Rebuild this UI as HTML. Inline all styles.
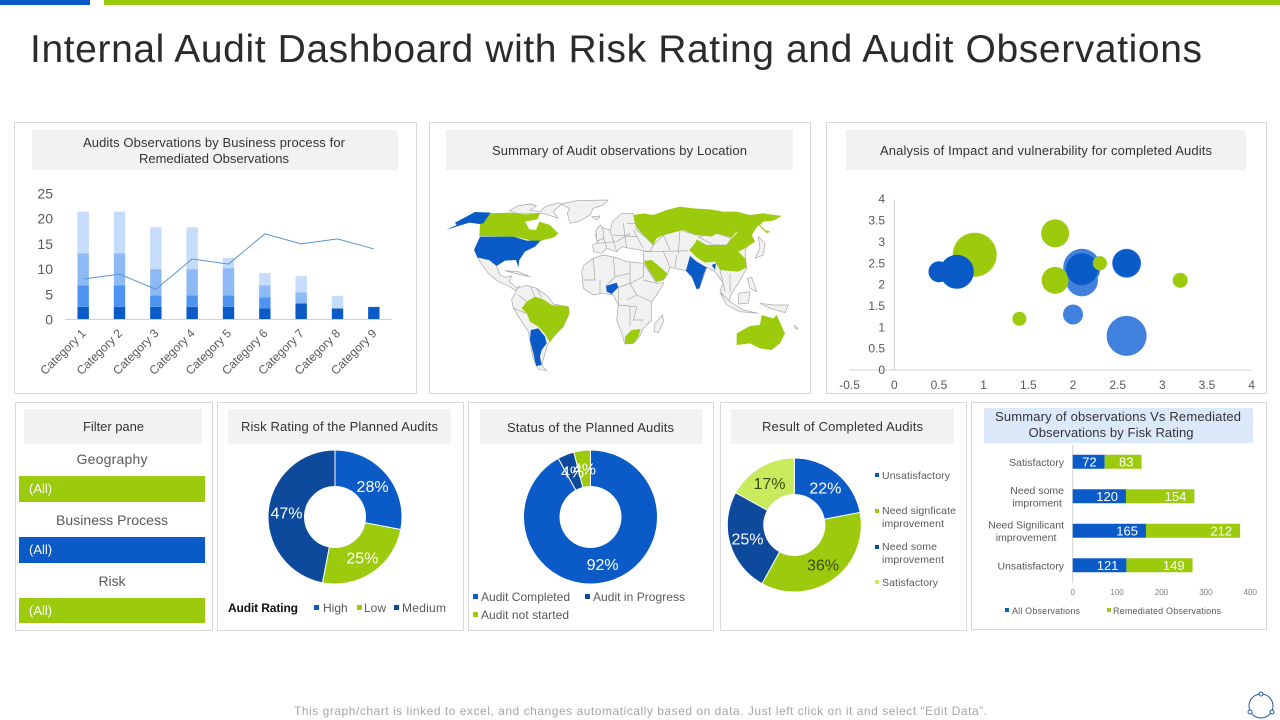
<!DOCTYPE html>
<html lang="en">
<head>
<meta charset="utf-8">
<title>Internal Audit Dashboard</title>
<style>
html,body{margin:0;padding:0;background:#fff;}
svg{display:block;font-family:"Liberation Sans",sans-serif;}
.panel{fill:#fff;stroke:#d9d9d9;stroke-width:1;}
.head{fill:#f2f2f2;}
.t{fill:#333;font-size:13px;text-anchor:middle;}
.lg{fill:#595959;font-size:12px;}
.land{fill:#f1f1f1;stroke:#a6a6a6;stroke-width:2;stroke-linejoin:round;}
.bor{fill:none;stroke:#a6a6a6;stroke-width:2;}
.gr{fill:#9ccb0e;}
.bl{fill:#0a5bc8;}
</style>
</head>
<body>
<svg id="dash" width="1280" height="720" viewBox="0 0 1280 720" xmlns="http://www.w3.org/2000/svg">
  <rect x="0" y="0" width="90" height="5" fill="#0a5bc8"/>
  <rect x="104" y="0" width="1176" height="5" fill="#9ccb0e"/>
  <text x="30" y="62" font-size="39" fill="#2b2b2b" textLength="1172" lengthAdjust="spacing">Internal Audit Dashboard with Risk Rating and Audit Observations</text>

  <rect class="panel" x="14.5" y="122.5" width="402" height="271"/>
  <rect class="panel" x="429.5" y="122.5" width="381" height="271"/>
  <rect class="panel" x="826.5" y="122.5" width="440" height="271"/>
  <rect class="panel" x="15.5" y="402.5" width="197" height="228"/>
  <rect class="panel" x="217.5" y="402.5" width="246" height="228"/>
  <rect class="panel" x="468.5" y="402.5" width="245" height="228"/>
  <rect class="panel" x="720.5" y="402.5" width="246" height="228"/>
  <rect class="panel" x="971.5" y="402.5" width="295" height="227"/>

  <rect class="head" x="32" y="130" width="366" height="40"/>
  <text class="t" x="214" y="147" textLength="262" lengthAdjust="spacing">Audits Observations  by Business process for</text>
  <text class="t" x="214" y="163" textLength="150" lengthAdjust="spacing">Remediated  Observations</text>
  <rect class="head" x="446" y="130" width="347" height="40"/>
  <text class="t" x="619.5" y="155" textLength="255" lengthAdjust="spacing">Summary of Audit observations  by Location</text>
  <rect class="head" x="846" y="130" width="400" height="40"/>
  <text class="t" x="1046" y="155" textLength="332" lengthAdjust="spacing">Analysis of Impact and vulnerability  for completed Audits</text>

  <rect class="head" x="24" y="409" width="178" height="35"/>
  <text class="t" x="113.500" y="431" textLength="61" lengthAdjust="spacing">Filter pane</text>
  <text class="t" x="112" y="464" style="font-size:14px;fill:#595959" textLength="71" lengthAdjust="spacing">Geography</text>
  <rect class="gr" x="19" y="476" width="186" height="26"/>
  <text x="29" y="493" font-size="13" fill="#fff">(All)</text>
  <text class="t" x="112" y="525" style="font-size:14px;fill:#595959" textLength="112" lengthAdjust="spacing">Business Process</text>
  <rect class="bl" x="19" y="537" width="186" height="26"/>
  <text x="29" y="554" font-size="13" fill="#fff">(All)</text>
  <text class="t" x="112" y="586" style="font-size:14px;fill:#595959" textLength="27" lengthAdjust="spacing">Risk</text>
  <rect class="gr" x="19" y="598" width="186" height="25"/>
  <text x="29" y="615" font-size="13" fill="#fff">(All)</text>

  <rect class="head" x="228" y="409" width="223" height="35"/>
  <text class="t" x="339.500" y="431" textLength="197" lengthAdjust="spacing">Risk Rating of the Planned Audits</text>
  <rect class="head" x="480" y="409" width="222" height="35"/>
  <text class="t" x="590.500" y="432" textLength="167" lengthAdjust="spacing">Status of the Planned Audits</text>
  <rect class="head" x="731" y="409" width="223" height="35"/>
  <text class="t" x="842.500" y="431" textLength="161" lengthAdjust="spacing">Result of Completed  Audits</text>
  <rect x="984" y="408" width="269" height="35" fill="#dbe9fb"/>
  <text class="t" x="1118" y="421" textLength="246" lengthAdjust="spacing">Summary  of observations    Vs Remediated</text>
  <text class="t" x="1111" y="437" textLength="165" lengthAdjust="spacing">Observations  by Fisk Rating</text>

  <g transform="translate(430,180) scale(0.33333)">
    <path class="land" d="M392,72 L440,62 L535,60 L520,75 L490,85 L480,105 L445,125 L420,130 L412,100 L418,85Z"/>
    <path class="land" d="M238,92 L262,78 L300,72 L320,78 L300,90 L330,95 L345,80 L385,68 L395,72 L370,95 L385,115 L340,100 L260,100Z"/>
    <path class="land" d="M142,232 L178,240 L200,258 L210,285 L228,292 L245,288 L238,305 L262,325 L268,318 L258,332 L235,318 L205,305 L175,280 L150,245Z"/>
    <path class="land" d="M225,272 L265,275 L300,290 L262,282Z"/>
    <path class="land" d="M245,360 L262,325 L290,316 L320,325 L355,350 L370,372 L415,380 L418,400 L400,440 L375,465 L355,490 L345,520 L335,555 L350,572 L325,568 L308,530 L295,455 L250,385Z"/>
    <path class="land" d="M490,215 L488,195 L505,185 L495,165 L510,140 L540,150 L548,125 L575,100 L610,100 L620,150 L650,175 L670,195 L660,215 L640,212 L600,205 L575,200 L560,215 L530,205 L515,220Z"/>
    <path class="land" d="M498,150 L512,135 L522,160 L518,178 L500,182Z"/>
    <path class="land" d="M640,215 L660,215 L670,195 L700,165 L750,150 L800,165 L860,160 L920,155 L965,165 L945,215 L950,265 L925,310 L905,340 L895,370 L870,330 L880,310 L855,275 L830,262 L808,325 L785,290 L768,272 L720,262 L712,285 L700,300 L680,305 L660,275 L640,243Z"/>
    <path class="land" d="M455,275 L462,255 L490,235 L520,225 L555,232 L590,245 L640,250 L660,280 L680,310 L702,308 L680,345 L665,365 L665,420 L640,445 L625,475 L610,490 L585,492 L575,460 L560,420 L565,375 L550,345 L515,340 L490,345 L460,325Z"/>
    <path class="bor" d="M490,235 L495,300 L460,300 M550,232 L555,290 L528,318 M600,245 L600,310 L565,322 M640,250 L640,290 L600,310 L620,345 L665,365 M565,375 L620,380 L610,420 L640,420 M555,290 L600,280 M510,300 L510,342 M620,345 L590,360 M565,322 L565,375 M600,380 L600,440 M640,300 L680,310"/>
    <path class="bor" d="M500,190 L560,185 L600,160 M540,150 L560,215 M580,130 L590,205 M520,170 L530,205 M610,150 L640,205 M550,165 L620,170 M590,130 L615,130"/>
    <path class="bor" d="M700,215 L720,262 M740,225 L735,262 M700,165 L720,210 M750,150 L745,222 M660,215 L775,212 M870,270 L885,335 M900,280 L900,335"/>
    <path class="bor" d="M265,345 L290,365 M250,385 L290,400 M300,318 L315,350 M320,325 L335,352"/>
    <path class="land" d="M675,430 L698,405 L700,425 L685,458 L672,455Z"/>
    <path class="land" d="M805,170 L860,160 L905,175 L890,195 L850,195Z"/>
    <path class="land" d="M985,170 L1005,190 L1000,225 L975,235 L990,205Z"/>
    <path class="land" d="M952,295 L965,292 L980,335 L960,325Z"/>
    <path class="land" d="M870,338 L900,365 L940,390 L985,400 L930,395 L890,375Z"/>
    <path class="land" d="M925,340 L960,335 L955,370 L925,372Z"/>
    <path class="land" d="M990,370 L1030,375 L1075,375 L1065,398 L1020,385Z"/>
    <path class="land" d="M485,110 L510,108 L500,120Z"/>
    <path class="land" d="M1092,435 L1104,445 L1098,447Z"/>
    <path class="gr" d="M148,168 L150,132 L168,100 L240,98 L285,103 L330,100 L322,118 L285,125 L298,148 L318,150 L328,125 L360,135 L385,160 L372,172 L340,180 L320,188 L290,178 L250,170Z"/>
    <path class="bl" d="M48,150 L80,135 L75,128 L105,112 L135,96 L182,98 L160,130 L148,132 L118,128 L85,138Z"/>
    <path class="bl" d="M150,170 L250,170 L290,182 L332,182 L315,200 L285,215 L268,240 L265,262 L258,240 L225,242 L200,258 L178,240 L142,232 L132,210Z"/>
    <path class="gr" d="M275,385 L290,365 L315,350 L340,358 L365,375 L415,380 L418,400 L400,440 L375,465 L360,487 L345,462 L325,440 L300,425 L290,400Z"/>
    <path class="bl" d="M302,450 L325,445 L345,470 L350,490 L335,510 L330,530 L335,555 L318,558 L310,520 L300,480Z"/>
    <path class="bl" d="M528,318 L560,308 L565,322 L545,342 L530,335Z"/>
    <path class="gr" d="M585,470 L605,450 L632,447 L625,470 L610,490 L585,492Z"/>
    <path class="gr" d="M640,243 L665,240 L695,265 L712,280 L700,300 L680,305 L660,275Z"/>
    <path class="gr" d="M610,105 L640,100 L670,105 L710,90 L750,80 L790,85 L840,88 L880,95 L920,95 L960,105 L1000,100 L1055,108 L1030,122 L1000,125 L990,135 L1005,150 L1020,155 L1012,160 L1000,150 L985,135 L965,165 L975,185 L950,195 L945,170 L920,155 L905,172 L860,160 L845,170 L800,165 L760,150 L700,165 L680,175 L670,195 L650,175 L625,150 L615,130Z"/>
    <path class="gr" d="M778,210 L795,190 L800,178 L830,195 L860,195 L890,195 L905,175 L925,155 L965,165 L975,185 L945,205 L925,215 L945,235 L950,262 L925,275 L890,272 L870,270 L855,245 L825,248 L800,232Z"/>
    <path class="bl" d="M780,228 L800,245 L830,262 L822,280 L808,325 L800,328 L785,290 L768,272Z"/>
    <path class="bl" d="M845,255 L858,250 L855,270Z"/>
    <path class="gr" d="M920,460 L960,438 L990,435 L995,405 L1030,415 L1040,405 L1065,460 L1050,490 L1025,510 L990,505 L960,490 L920,495Z"/>
  </g>

  <g id="barChart"></g>
  <g id="bubbleChart"></g>
  <g id="donutRisk"></g>
  <g id="donutStatus"></g>
  <g id="donutResult"></g>
  <g id="stackChart"></g>

  <text x="228" y="612" font-size="12" font-weight="bold" fill="#111" textLength="70" lengthAdjust="spacing">Audit Rating</text>
  <rect x="314" y="605" width="5" height="5" fill="#0a5bc8"/>
  <text class="lg" x="323" y="612">High</text>
  <rect x="357" y="605" width="5" height="5" fill="#9ccb0e"/>
  <text class="lg" x="364" y="612">Low</text>
  <rect x="394" y="605" width="5" height="5" fill="#0d4a9c"/>
  <text class="lg" x="402" y="612" textLength="44" lengthAdjust="spacing">Medium</text>

  <rect x="473" y="594" width="5" height="5" fill="#0a5bc8"/>
  <text class="lg" x="481" y="601" textLength="89" lengthAdjust="spacing">Audit Completed</text>
  <rect x="585" y="594" width="5" height="5" fill="#0d4a9c"/>
  <text class="lg" x="593" y="601" textLength="92" lengthAdjust="spacing">Audit in Progress</text>
  <rect x="473" y="612" width="5" height="5" fill="#9ccb0e"/>
  <text class="lg" x="481" y="619" textLength="88" lengthAdjust="spacing">Audit not started</text>

  <g font-size="10.5" fill="#595959">
    <rect x="875" y="473" width="4" height="4" fill="#0a5bc8"/>
    <text x="882" y="479" textLength="68" lengthAdjust="spacing">Unsatisfactory</text>
    <rect x="875" y="509" width="4" height="4" fill="#9ccb0e"/>
    <text x="882" y="514" textLength="74" lengthAdjust="spacing">Need signficate</text>
    <text x="882" y="527" textLength="62" lengthAdjust="spacing">improvement</text>
    <rect x="875" y="545" width="4" height="4" fill="#0d4a9c"/>
    <text x="882" y="550" textLength="55" lengthAdjust="spacing">Need some</text>
    <text x="882" y="563" textLength="62" lengthAdjust="spacing">improvement</text>
    <rect x="875" y="580" width="4" height="4" fill="#c9ea5d"/>
    <text x="882" y="586" textLength="56" lengthAdjust="spacing">Satisfactory</text>
  </g>

  <rect x="1005" y="608" width="4" height="4" fill="#0a5bc8"/>
  <text x="1012" y="614" font-size="9" fill="#595959" textLength="68" lengthAdjust="spacing">All Observations</text>
  <rect x="1107" y="608" width="4" height="4" fill="#9ccb0e"/>
  <text x="1113" y="614" font-size="9" fill="#595959" textLength="108" lengthAdjust="spacing">Remediated Observations</text>

  <text x="294" y="715" font-size="12" fill="#a6a6a6" textLength="693" lengthAdjust="spacing">This graph/chart is linked to excel, and changes automatically based on data. Just left click on it and select “Edit Data”.</text>
  <g fill="#fff" stroke="#1f5a9e" stroke-width="1">
    <circle cx="1261" cy="706" r="12" fill="none"/>
    <circle cx="1261" cy="694" r="2"/>
    <circle cx="1250" cy="712" r="2"/>
    <circle cx="1272" cy="712" r="2"/>
  </g>
</svg>
<script>
// Bar + line chart data
const barCategories = ['Category 1','Category 2','Category 3','Category 4','Category 5','Category 6','Category 7','Category 8','Category 9'];
const barSeriesA = [2.5,2.5,2.5,2.5,2.5,2.2,3.2,2.2,2.5];
const barSeriesB = [4.3,4.3,2.3,2.3,2.3,2.2,0,0,0];
const barSeriesC = [6.3,6.3,5.2,5.2,5.4,2.4,2.2,0,0];
const barSeriesD = [8.3,8.3,8.3,8.3,2,2.4,3.2,2.5,0];
const barLine = [8,9,6,12,11,17,15,16,14];
const barTicks = [0,5,10,15,20,25];
// Bubble chart data
const bubbleXTicks = [-0.5,0,0.5,1,1.5,2,2.5,3,3.5,4];
const bubbleYTicks = [0,0.5,1,1.5,2,2.5,3,3.5,4];
const greenX = [0.9,1.8,1.8,2.3,3.2,1.4];
const greenY = [2.7,3.2,2.1,2.5,2.1,1.2];
const greenSize = [484,196,182,49,56,49];
const lightX = [2.6,2.0,2.1,2.1,2.6];
const lightY = [0.8,1.3,2.1,2.4,2.5];
const lightSize = [400,100,256,350,210];
const darkX = [0.5,0.7,2.1,2.6];
const darkY = [2.3,2.3,2.36,2.5];
const darkSize = [110,289,256,190];
// Donut data
const riskValues = [28,25,47];
const statusValues = [92,4,4];
const resultValues = [22,36,25,17];
// Stacked bar data
const stackCategories = [['Satisfactory'],['Need some','improment'],['Need Signilicant','improvement'],['Unsatisfactory']];
const stackAll = [72,120,165,121];
const stackRemediated = [83,154,212,149];
const stackTicks = [0,100,200,300,400];

const NS = 'http://www.w3.org/2000/svg';
function mk(parent, tag, attrs, txt){
  const e = document.createElementNS(NS, tag);
  for (const k in attrs) e.setAttribute(k, attrs[k]);
  if (txt !== undefined) e.textContent = txt;
  parent.appendChild(e);
  return e;
}

// ---- bar chart
(function(){
  const g = document.getElementById('barChart');
  const x0 = 65, x1 = 392, y0 = 319.5, pxPerUnit = 5.04;
  const band = (x1 - x0) / barCategories.length;
  const X = i => x0 + band * (i + 0.5);
  const Y = v => y0 - v * pxPerUnit;
  barTicks.forEach(t => {
    const el = mk(g, 'text', {x: 53, y: Y(t) + 5, 'font-size': 14, fill: '#595959', 'text-anchor': 'end'}, t);
    
    
  });
  const series = [barSeriesA, barSeriesB, barSeriesC, barSeriesD];
  const colors = ['#0a5bc8', '#4d94f0', '#8db9f5', '#c5dcfa'];
  barCategories.forEach((c, i) => {
    let acc = 0;
    series.forEach((s, k) => {
      if (s[i] <= 0) return;
      const r = mk(g, 'rect', {x: X(i) - 5.7, y: Y(acc + s[i]), width: 11.4, height: s[i] * pxPerUnit, fill: colors[k]});
      
      
      acc += s[i];
    });
    const lx = X(i) + 3.5, ly = 334;
    const lab = mk(g, 'text', {x: lx, y: ly, 'font-size': 12, fill: '#595959', 'text-anchor': 'end', transform: 'rotate(-45 ' + lx + ' ' + ly + ')'}, c);
    
    
  });
  const axis = mk(g, 'line', {x1: x0, x2: x1, y1: y0, y2: y0, stroke: '#d0d0d0'});
  
  
  const pts = barLine.map((v, i) => X(i) + ',' + Y(v)).join(' ');
  const pl = mk(g, 'polyline', {points: pts, fill: 'none', stroke: '#5b94d6', 'stroke-width': 1});
  
  
})();

// ---- bubble chart
(function(){
  const g = document.getElementById('bubbleChart');
  const X = v => 894.3 + v * 89.35;
  const Y = v => 370 - v * 42.7;
  const ax1 = mk(g, 'line', {x1: X(-0.5), x2: X(4), y1: Y(0), y2: Y(0), stroke: '#d0d0d0'});
  
  
  const ax2 = mk(g, 'line', {x1: X(0), x2: X(0), y1: Y(0), y2: Y(4), stroke: '#d0d0d0'});
  
  
  bubbleXTicks.forEach(t => {
    const el = mk(g, 'text', {x: X(t), y: 389, 'font-size': 12, fill: '#595959', 'text-anchor': 'middle'}, t);
    
    
  });
  bubbleYTicks.forEach(t => {
    const el = mk(g, 'text', {x: 885, y: Y(t) + 4, 'font-size': 12, fill: '#595959', 'text-anchor': 'end'}, t);
    
    
  });
  lightX.forEach((x, i) => {
    const c = mk(g, 'circle', {cx: X(x), cy: Y(lightY[i]), r: Math.sqrt(lightSize[i]), fill: '#4181de'});
    
    
  });
  greenX.forEach((x, i) => {
    const c = mk(g, 'circle', {cx: X(x), cy: Y(greenY[i]), r: Math.sqrt(greenSize[i]), fill: '#9ccb0e'});
    
    
  });
  darkX.forEach((x, i) => {
    const c = mk(g, 'circle', {cx: X(x), cy: Y(darkY[i]), r: Math.sqrt(darkSize[i]), fill: '#0a5bc8'});
    
    
  });
  // the small green bubble sits in front of the blue cluster
  const top = mk(g, 'circle', {cx: X(greenX[3]), cy: Y(greenY[3]), r: Math.sqrt(greenSize[3]), fill: '#9ccb0e'});
  
  
})();

// ---- donuts
function donut(id, values, colors, textColors, cx, cy, R, r){
  const g = document.getElementById(id);
  const total = values.reduce((a, b) => a + b, 0);
  let acc = 0;
  const pt = (rad, frac) => {
    const a = frac * 2 * Math.PI;
    return (cx + rad * Math.sin(a)) + ' ' + (cy - rad * Math.cos(a));
  };
  values.forEach((v, i) => {
    const s = acc / total, e = (acc + v) / total;
    const large = (e - s) > 0.5 ? 1 : 0;
    const d = 'M' + pt(R, s) + ' A' + R + ' ' + R + ' 0 ' + large + ' 1 ' + pt(R, e) +
              ' L' + pt(r, e) + ' A' + r + ' ' + r + ' 0 ' + large + ' 0 ' + pt(r, s) + 'Z';
    const p = mk(g, 'path', {d: d, fill: colors[i], stroke: '#fff', 'stroke-width': 1});
    
    
    acc += v;
  });
  acc = 0;
  values.forEach((v, i) => {
    const mid = (acc + v / 2) / total * 2 * Math.PI;
    const rm = (R + r) / 2;
    const t = mk(g, 'text', {x: cx + rm * Math.sin(mid), y: cy - rm * Math.cos(mid) + 6, 'font-size': 16, fill: textColors[i], 'text-anchor': 'middle'}, v + '%');
    
    
    acc += v;
  });
}
donut('donutRisk', riskValues, ['#0a5bc8','#9ccb0e','#0d4a9c'], ['#fff','#fff','#fff'], 335, 517, 67, 30.5);
donut('donutStatus', statusValues, ['#0a5bc8','#0d4a9c','#9ccb0e'], ['#fff','#fff','#fff'], 590.5, 517, 67, 30.5);
donut('donutResult', resultValues, ['#0a5bc8','#9ccb0e','#0d4a9c','#c9ea5d'], ['#fff','#3a4a10','#fff','#3a4a10'], 794.3, 525, 67, 30.5);

// ---- stacked bars
(function(){
  const g = document.getElementById('stackChart');
  const x0 = 1072.7, px = 0.444, top = 445, bottom = 583, labelRight = 1064;
  const band = (bottom - top) / stackCategories.length;
  const X = v => x0 + v * px;
  const Yc = i => top + band * (i + 0.5) - 0.5;
  const axis = mk(g, 'line', {x1: x0, x2: x0, y1: top, y2: bottom, stroke: '#d0d0d0'});
  
  
  stackTicks.forEach(t => {
    const el = mk(g, 'text', {x: X(t), y: 595, 'font-size': 8, fill: '#7f7f7f', 'text-anchor': 'middle'}, t);
    
    
  });
  stackCategories.forEach((lines, i) => {
    const a = stackAll[i], b = stackRemediated[i];
    const r1 = mk(g, 'rect', {x: X(0), y: Yc(i) - 7, width: a * px, height: 14, fill: '#0a5bc8'});
    
    
    const r2 = mk(g, 'rect', {x: X(a), y: Yc(i) - 7, width: b * px, height: 14, fill: '#9ccb0e'});
    
    
    const t1 = mk(g, 'text', {x: X(a) - 8, y: Yc(i) + 4.5, 'font-size': 13, fill: '#fff', 'text-anchor': 'end'}, a);
    
    
    const t2 = mk(g, 'text', {x: X(a + b) - 8, y: Yc(i) + 4.5, 'font-size': 13, fill: '#fff', 'text-anchor': 'end'}, b);
    
    
    const made = lines.map((ln, k) => {
      const ly = Yc(i) + 4 + (k - (lines.length - 1) / 2) * 12.5;
      const cat = mk(g, 'text', {x: 0, y: ly, 'font-size': 10.5, fill: '#595959', 'text-anchor': 'middle'}, ln);
      
      
      return cat;
    });
    const widest = Math.max.apply(null, made.map(m => m.getComputedTextLength()));
    made.forEach(m => m.setAttribute('x', labelRight - widest / 2));
  });
})();
</script>
</body>
</html>
